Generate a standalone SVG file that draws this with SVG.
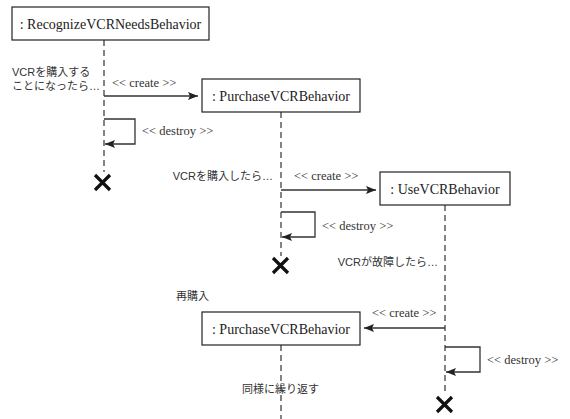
<svg xmlns="http://www.w3.org/2000/svg" width="570" height="419" viewBox="0 0 570 419">
<style>
.box{fill:#fff;stroke:#222;stroke-width:1.2}
.life{stroke:#333;stroke-width:1.2;stroke-dasharray:6,4;fill:none}
.msg{stroke:#333;stroke-width:1.3;fill:none}
.x{stroke:#111;stroke-width:3.2;stroke-linecap:butt;fill:none}
</style>
<defs>
<marker id="ah" markerWidth="10" markerHeight="8" refX="10" refY="4" orient="auto" markerUnits="userSpaceOnUse">
<path d="M0,0 L10,4 L0,8 L2,4 Z" fill="#222"/>
</marker>
</defs>
<rect width="570" height="419" fill="#fff"/>

<g id="lifelines">
<line class="life" x1="104" y1="40" x2="104" y2="172"/>
<line class="life" x1="281" y1="112" x2="281" y2="256"/>
<line class="life" x1="445" y1="205" x2="445" y2="395"/>
<line class="life" x1="281" y1="345" x2="281" y2="419"/>
</g>

<g font-family="'Liberation Serif', 'Times New Roman', serif" font-size="14" fill="#222" text-anchor="middle">
<g id="node-recognize">
<rect class="box" x="12" y="7" width="197" height="33"/>
<text x="110.5" y="28.5">: RecognizeVCRNeedsBehavior</text>
</g>
<g id="node-purchase1">
<rect class="box" x="202" y="79" width="158" height="33"/>
<text x="281" y="100.5">: PurchaseVCRBehavior</text>
</g>
<g id="node-use">
<rect class="box" x="380" y="172" width="130" height="33"/>
<text x="445" y="193.5">: UseVCRBehavior</text>
</g>
<g id="node-purchase2">
<rect class="box" x="202" y="312" width="158" height="33"/>
<text x="281" y="333.5">: PurchaseVCRBehavior</text>
</g>
</g>

<g id="connectors">
<line class="msg" x1="104" y1="96" x2="198" y2="96" marker-end="url(#ah)"/>
<polyline class="msg" points="104,119 135,119 135,144 105,144" marker-end="url(#ah)"/>
<line class="msg" x1="281" y1="190" x2="376" y2="190" marker-end="url(#ah)"/>
<polyline class="msg" points="281,212 315,212 315,237 282,237" marker-end="url(#ah)"/>
<line class="msg" x1="445" y1="328" x2="364" y2="328" marker-end="url(#ah)"/>
<polyline class="msg" points="445,347 480,347 480,372 446,372" marker-end="url(#ah)"/>
</g>

<g id="destroy-marks">
<path class="x" d="M95,175 L110,190 M110,175 L95,190"/>
<path class="x" d="M273,258 L288,273 M288,258 L273,273"/>
<path class="x" d="M437,397 L452,412 M452,397 L437,412"/>
</g>

<g id="stereotypes" font-family="'Liberation Serif', 'Times New Roman', serif" font-size="12.5" fill="#333">
<text x="112" y="87">&lt;&lt; create &gt;&gt;</text>
<text x="142" y="135">&lt;&lt; destroy &gt;&gt;</text>
<text x="294" y="180">&lt;&lt; create &gt;&gt;</text>
<text x="322" y="230">&lt;&lt; destroy &gt;&gt;</text>
<text x="372" y="317">&lt;&lt; create &gt;&gt;</text>
<text x="487" y="364">&lt;&lt; destroy &gt;&gt;</text>
</g>

<g id="notes" font-family="'Liberation Sans', 'Noto Sans CJK JP', sans-serif" font-size="11" fill="#333">
<text x="12" y="76">VCRを購入する</text>
<text x="12" y="90">ことになったら…</text>
<text x="273" y="180" text-anchor="end">VCRを購入したら…</text>
<text x="438" y="266" text-anchor="end">VCRが故障したら…</text>
<text x="176" y="300">再購入</text>
<text x="242" y="393">同様に繰り返す</text>
</g>
</svg>
